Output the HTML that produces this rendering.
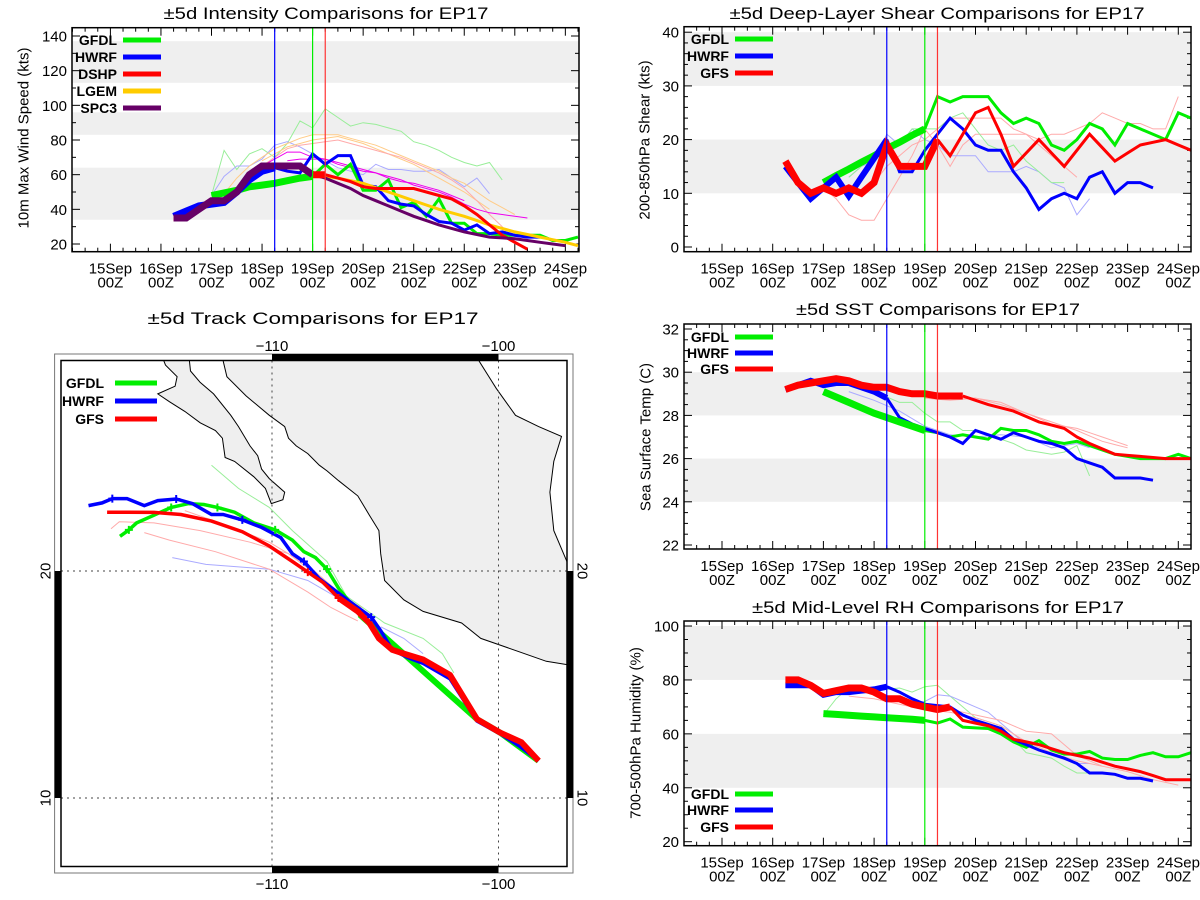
<!DOCTYPE html>
<html><head><meta charset="utf-8">
<style>
html,body{margin:0;padding:0;background:#fff;}
svg{display:block;font-family:"Liberation Sans",sans-serif;}
</style></head>
<body>
<svg id="fig" width="1200" height="900" viewBox="0 0 1200 900" xmlns="http://www.w3.org/2000/svg">
<rect x="0" y="0" width="1200" height="900" fill="#fff"/>
</svg>
<script>
// ---------- DATA (6-hourly, day offset from 15Sep 00Z) ----------
const dayLabels = ["15Sep","16Sep","17Sep","18Sep","19Sep","20Sep","21Sep","22Sep","23Sep","24Sep"];
const verticalMarkDays = [3.25, 4.0, 4.25];

// Intensity (kt)
const intSpc3Thick = [35,35,40,45,45,50,60,65,65,65,65,60];
const intSpc3 = [60,58,55,52,48,45,42,39,36,33.5,31,29,27,25.5,24,23.5,23,22,21,20,19];
const intHwrfThick = [36,39,42,43,44,50,57,62,64];
const intHwrf = [64,62,61,72,66,71,71,54,53,45,43,42,37,33,32,28,31,26,27,25,24,24];
const intGfdlThick = [48,49.5,51,53,54,55,56.5,58,59];
const intGfdl = [59,66,60,66,51,51,57,41,44,36,46,32,32,26,26,25,25,25,25,22,22,24];
const intDshpEarly = [35,35];
const intDshpThick = [60,60];
const intDshp = [60,58,56,53,52,52,52,52,50,48,46,42,37,31,25,21,17];
const intLgem = [60,59,58,56.5,55,52.5,50,47.5,45,42.5,40,38,36,33.5,31,29,27,25.5,24,22.5,21,19];
const intThinGreen = [48,74,63,72,75,70,78,91,87,98,93,88,90,89,87,85,79,77,74,70,67,65,67,57];
const intThinBlue = [48,59,65,65,69,77,79,76,72,68,64,62,60,66,63,63,62,62,63,58,53,58,49];
const intThinOrange1 = [49,58,65,70,75,78,81,83,83,83,81,79,77,74,71,68,65,62,58,55,50,45,41,37];
const intThinOrange2 = [68,72,76,78,80,81,82,80,78,75,72,69,66,62,58,54,50,45,40];
const intThinRed = [65,70,75,77,78,79,80,78,76,74,72,70,67,64,61,57,52,45,37,30,20];
const intThinMagenta1 = [60,65,69,73,73,70,69,67,65,63,61,58,56,55,53,51,48,45];
const intThinMagenta2 = [68,69,69,69,66,64,62,61,59,57,54,52,50,47,43,40,38,37,36,35];

// Shear (kt)
const shrGfsThick = [16,12,10,11,10,11,10,12,19,15,15,15,20];
const shrGfs = [20,17,21,25,26,21,15,17.5,20,17.5,15,18,21,18.5,16,17.5,19,19.5,20,19,18];
const shrHwrfThick = [15,12,9,11,13,9.5,13,16.5,20];
const shrHwrf = [20,14,14,18,21,24,22,19,18,18,14,11,7,9,10,9,13,14,10,12,12,11];
const shrGfdlThick = [12,13.3,14.5,15.8,17,18.3,19.5,20.8,22];
const shrGfdl = [22,28,27,28,28,28,25,23,24,23,19,18,20,23,22,19,23,22,21,20,25,24];
const shrThinRed1 = [11,9,6,5,5,9,13,17,22,19,15,19,21,21,21,21,21,20,21,21,22,23,25,24,23,23,22,22,28];
const shrThinRed2 = [12,15,17,19,20,22,24,24,24,24,24,22,21,19,17,15,13];
const shrThinBlue = [13,15,16,21,19,22,20,19,17,17,17,14,14,14,15,14,12,11,6,9];
const shrThinGreen = [13,15,17,18,19,22,22,22,24,25,22,19,18,19,16,14,12,12];

// SST (C)
const sstGfsThick = [29.2,29.4,29.5,29.6,29.7,29.6,29.4,29.3,29.3,29.1,29.0,29.0,28.9,28.9,28.9];
const sstGfs = [28.9,28.7,28.5,28.35,28.2,27.95,27.7,27.55,27.4,27.0,26.7,26.45,26.2,26.15,26.1,26.05,26.0,26.0,26.0];
const sstHwrfThick = [29.2,29.4,29.6,29.4,29.5,29.5,29.3,29.1,28.8];
const sstHwrf = [28.8,27.9,27.6,27.4,27.2,27.0,26.7,27.3,27.1,26.9,27.2,27.0,26.8,26.7,26.5,26.0,25.8,25.6,25.1,25.1,25.1,25.0];
const sstGfdlThick = [29.1,28.85,28.6,28.35,28.1,27.9,27.7,27.5,27.3];
const sstGfdl = [27.3,27.2,27.0,27.1,27.0,26.9,27.4,27.3,27.3,27.1,26.8,26.7,26.8,26.6,26.4,26.2,26.1,26.0,26.0,26.0,26.2,26.0];
const sstThinRed1 = [28.8,28.75,28.7,28.75,28.8,28.65,28.5,28.3,28.1,27.9,27.7,27.5,27.3,27.05,26.8,26.65,26.5];
const sstThinRed2 = [28.9,28.85,28.85,28.8,28.8,28.7,28.6,28.35,28.1,27.85,27.6,27.5,27.4,27.2,27.0,26.8,26.6];
const sstThinGreen = [29.1,28.85,28.6,28.6,28.1,27.7,27.7,27.3,27.3,27.1,26.9,26.7,26.4,26.3,26.2,26.3,26.6,25.2];
const sstThinBlue = [29.1,28.9,28.7,28.45,28.2,27.85,27.5,27.3,27.1,27.05,27.0,27.05,27.1,27.05,27.0,26.75,26.5,26.6,26.7,26.5];

// Mid-level RH (%)
const rhGfsThick = [80,80,78,75,76,77,77,75.5,73,73,71,70,69,70];
const rhGfs = [70,65,64,63,61,58,57,56,54.5,53,52,51,49.5,48,47,46,44.5,43,43,43];
const rhHwrfThick = [78,78,78,74.5,75.5,75.5,76,76.5,77.5];
const rhHwrf = [77.5,75.5,73,71,70.5,70,67,65,63.5,62,58,56,54,52.5,51,49,45.5,45.5,45,43.5,43.5,42.5];
const rhGfdlThick = [67.5,67.2,66.9,66.6,66.3,66,65.7,65.4,65];
const rhGfdl = [65,64,65.5,62.5,62.2,62,60,57,55,57.5,54,52.5,52.5,53.5,51,50.5,50.5,52,53,51.5,51.5,53];
const rhThinGreen = [67,73,77,77,76,76.5,77,75.5,77.5,78,74,70,66,64.5,63,58,53,52,51,48,45.5,45.5];
const rhThinBlue = [72,72,72,74.5,74,72,70,68,64,60,56,54,52,50.5,49,49];
const rhThinRed1 = [75,73.5,72,71,70,69.5,69,68,67,66,65,63,61,60.5,60,56,52,50,48,47,46,44.5,43,42,41];
const rhThinRed2 = [74,73.5,73,72,71,70,69,68.5,68,67,66,64.5,63,60,57,55,53,51.5,50,49,48];

// Track (lon, lat)
const trkGfsLon = [-117.28,-115.21,-114.02,-112.67,-111.31,-110.12,-109.10,-108.42,-107.74,-107.06,-106.21,-105.70,-105.28,-104.69,-104.18,-103.33,-102.14,-100.95,-99.93,-98.99,-98.23];
const trkGfsLat = [22.59,22.58,22.49,22.20,21.73,21.10,20.42,19.95,19.49,18.81,18.22,17.71,17.03,16.53,16.36,16.10,15.42,13.47,12.88,12.46,11.64];
const trkHwrfLon = [-118.10,-117.50,-117.05,-116.40,-115.64,-115.04,-114.23,-113.51,-112.67,-112.16,-111.31,-110.46,-109.61,-109.10,-108.59,-107.91,-107.23,-106.21,-105.62,-105.20,-104.69,-104.01,-103.33,-102.14,-100.95,-99.93,-99.08,-98.23];
const trkHwrfLat = [22.88,23.00,23.19,23.19,22.88,23.10,23.17,22.97,22.49,22.49,22.25,21.92,21.47,20.76,20.42,19.66,19.15,18.39,17.97,17.37,16.53,16.19,15.93,15.25,13.39,12.83,12.29,11.64];
const trkGfdlLon = [-116.71,-116.32,-115.98,-115.21,-114.45,-113.68,-113.01,-112.41,-111.65,-110.80,-109.86,-109.10,-108.59,-108.08,-107.57,-107.06,-106.13];
const trkGfdlLat = [21.53,21.81,22.12,22.46,22.80,22.97,22.93,22.80,22.59,22.12,21.81,21.36,20.85,20.59,20.08,19.24,18.08];
const trkGfdlThickLon = [-106.13,-100.95,-99.93,-98.23];
const trkGfdlThickLat = [18.08,13.47,12.88,11.64];
const trkThinGreenLon = [-112.67,-111.48,-110.12,-109.10,-107.57,-106.72,-105.03,-103.33,-102.48,-101.97];
const trkThinGreenLat = [24.66,23.64,22.80,21.78,20.42,18.90,17.71,17.03,16.36,15.51];
const trkThinBlue1Lon = [-114.40,-112.92,-110.12,-108.42,-107.23,-106.21];
const trkThinBlue1Lat = [20.59,20.29,20.08,19.58,18.90,18.39];
const trkThinBlue2Lon = [-105.20,-104.18,-103.33];
const trkThinBlue2Lat = [17.54,17.03,16.36];
const trkThinRed1Lon = [-117.11,-116.74,-115.21,-113.17,-110.97,-109.27,-107.91,-106.72,-106.04];
const trkThinRed1Lat = [21.86,22.17,22.12,21.78,21.27,20.76,19.75,18.73,18.39];
const trkThinRed2Lon = [-115.64,-114.53,-112.50,-110.12,-108.42,-107.40,-106.72,-106.21];
const trkThinRed2Lat = [21.69,21.36,20.85,20.08,19.07,18.39,18.05,17.80];
const trkThinRed3Lon = [-113.85,-111.82,-110.12,-108.42,-107.06];
const trkThinRed3Lat = [22.66,21.95,21.27,20.25,19.07];

// Coastlines (lon/lat)
const mainlandLon = [-112.24,-111.99,-111.14,-110.12,-109.44,-109.27,-108.93,-108.42,-107.91,-107.57,-107.06,-106.21,-105.70,-105.28,-105.20,-105.03,-104.18,-103.33,-101.63,-100.78,-99.08,-97.89,-96.5,-96.5,-96.98,-97.56,-97.73,-97.56,-97.22,-98.23,-99.25,-100.10,-100.87,-100.87];
const mainlandLat = [29.6,28.56,27.71,26.86,26.36,25.85,25.51,25.17,24.66,24.41,23.98,23.31,22.46,21.78,20.76,19.58,18.73,18.22,17.71,17.03,16.44,16.02,15.8,20.42,20.42,21.78,23.47,24.83,25.93,26.36,26.86,28.05,29.27,29.6];
const bajaLon = [-114.91,-113.68,-113.60,-113.17,-112.58,-111.82,-111.48,-110.97,-110.63,-110.46,-110.12,-109.44,-109.52,-110.03,-110.29,-110.80,-111.65,-112.07,-112.19,-112.50,-113.17,-113.85,-114.53,-115.04,-114.28,-114.19,-114.70];
const bajaLat = [29.6,29.6,28.81,28.31,27.80,26.86,26.36,25.51,25.08,24.49,24.07,23.47,23.14,22.97,23.64,24.15,24.83,25.0,25.85,26.19,26.53,27.03,27.46,27.80,28.14,28.56,29.07];

// ---------- RENDERING ----------
const NS = "http://www.w3.org/2000/svg";
const svg = document.getElementById('fig');
function mk(parent, tag, attrs, txt){
  const e = document.createElementNS(NS, tag);
  for (const k in attrs) e.setAttribute(k, attrs[k]);
  if (txt !== undefined) e.textContent = txt;
  parent.appendChild(e);
  return e;
}
const COL = {green:"#00ee00", blue:"#0000ff", red:"#ff0000", orange:"#ffcc00", purple:"#660066",
  ltGreen:"#99ee99", ltBlue:"#aaaaff", ltRed:"#ffaaaa", ltOrange:"#ffcc88", magenta:"#ee00ee"};

function drawPanel(p){
  const g = mk(svg, 'g', {});
  
  
  const X = d => p.dx0 + p.dpx * d;
  const Y = v => p.ya - (v - p.va) * p.vpx;
  const bw = p.x1 - p.x0;
  // clip
  const cid = p.name + '-clip';
  const cp = mk(g, 'clipPath', {id: cid});
  mk(cp, 'rect', {x:p.x0, y:p.y0, width:bw, height:p.y1-p.y0});
  p.bands.forEach(b => {
    const r = mk(g, 'rect', {x:p.x0, y:Y(b[1]), width:bw, height:Y(b[0])-Y(b[1]), fill:"#efefef", 'clip-path':`url(#${cid})`});
    
    
  });
  // ticks x
  for (let i = -3; i <= 37; i++) {
    const d = i * 0.25, x = X(d);
    if (x < p.x0 || x > p.x1) continue;
    const len = (i % 4 === 0) ? 8 : 4;
    mk(g, 'line', {x1:x, x2:x, y1:p.y1, y2:p.y1-len, stroke:"#000", 'stroke-width':1});
    mk(g, 'line', {x1:x, x2:x, y1:p.y0, y2:p.y0+len, stroke:"#000", 'stroke-width':1});
  }
  dayLabels.forEach((lab, i) => {
    const t1 = mk(g, 'text', {x:X(i), y:p.y1+22, 'font-size':15, 'text-anchor':'middle'}, lab);
    
    
    const t2 = mk(g, 'text', {x:X(i), y:p.y1+36, 'font-size':15, 'text-anchor':'middle'}, "00Z");
    
    
  });
  // y ticks
  for (let v = p.minorStart; v <= p.vmaxTick + 1e-6; v += p.minor) {
    const y = Y(v);
    if (y < p.y0 - 0.5 || y > p.y1 + 0.5) continue;
    const major = Math.abs(((v - p.majorStart) / p.major) - Math.round((v - p.majorStart) / p.major)) < 1e-6;
    const len = major ? 8 : 4;
    mk(g, 'line', {x1:p.x0, x2:p.x0+len, y1:y, y2:y, stroke:"#000"});
    mk(g, 'line', {x1:p.x1, x2:p.x1-len, y1:y, y2:y, stroke:"#000"});
  }
  p.yLabels.forEach(v => {
    const t = mk(g, 'text', {x:p.x0-5, y:Y(v)+5.5, 'font-size':15, 'text-anchor':'end'}, String(v));
    
    
  });
  const yt = mk(g, 'text', {x:0, y:0, 'font-size':15, 'text-anchor':'middle', 'dominant-baseline':'central', transform:`translate(${p.ytX},${p.ytY}) rotate(-90)`}, p.ytitle);
  
  
  const tt = mk(g, 'text', {x:p.tX, y:p.tY, 'font-size':17, 'text-anchor':'middle', textLength:p.tLen, lengthAdjust:'spacingAndGlyphs'}, p.title);
  
  
  // series
  const sg = mk(g, 'g', {'clip-path':`url(#${cid})`});
  p.series.forEach(s => {
    const pts = s.vals.map((v, i) => `${X(s.start + 0.25 * i).toFixed(1)},${Y(v).toFixed(1)}`).join(' ');
    const pl = mk(sg, 'polyline', {points:pts, fill:'none', stroke:s.c, 'stroke-width':s.w, 'stroke-linejoin':'miter', 'stroke-linecap':'butt'});
    
    
  });
  // vertical lines
  const vcols = [COL.blue, COL.green, "#ff3333"];
  verticalMarkDays.forEach((d, i) => {
    const l = mk(g, 'line', {x1:X(d), x2:X(d), y1:p.y0, y2:p.y1, stroke:vcols[i], 'stroke-width':1.2});
    
    
  });
  // box
  const bx = mk(g, 'rect', {x:p.x0, y:p.y0, width:bw, height:p.y1-p.y0, fill:'none', stroke:'#000', 'stroke-width':1.5});
  
  
  // legend
  p.legend.forEach((L, i) => {
    const y = p.legY[i];
    const t = mk(g, 'text', {x:p.legTX, y:y+5, 'font-size':14, 'font-weight':'bold', 'text-anchor':'end'}, L[0]);
    
    
    const l = mk(g, 'line', {x1:p.legL0, x2:p.legL1, y1:y, y2:y, stroke:L[1], 'stroke-width':5});
    
    
  });
}

// Intensity panel
drawPanel({name:'intensity-panel', x0:72, x1:579, y0:27.7, y1:251.7, dx0:110.4, dpx:50.55,
  va:20, ya:244, vpx:1.7333, bands:[[34,64],[83,96],[113,137]],
  minorStart:20, minor:10, major:20, majorStart:20, vmaxTick:140, yLabels:[20,40,60,80,100,120,140],
  ytitle:'10m Max Wind Speed (kts)', ytX:24, ytY:138,
  title:'±5d Intensity Comparisons for EP17', tX:326, tY:19, tLen:325,
  legend:[['GFDL',COL.green],['HWRF',COL.blue],['DSHP',COL.red],['LGEM',COL.orange],['SPC3',COL.purple]],
  legY:[40,57,74,91,108], legTX:117, legL0:123, legL1:161,
  series:[
    {n:'thin-gfdl', start:2.0, vals:intThinGreen, c:COL.ltGreen, w:1},
    {n:'thin-hwrf', start:2.0, vals:intThinBlue, c:COL.ltBlue, w:1},
    {n:'thin-lgem-1', start:2.25, vals:intThinOrange1, c:COL.ltOrange, w:1},
    {n:'thin-lgem-2', start:3.0, vals:intThinOrange2, c:COL.ltOrange, w:1},
    {n:'thin-dshp', start:3.0, vals:intThinRed, c:COL.ltRed, w:1},
    {n:'thin-spc3-1', start:2.75, vals:intThinMagenta1, c:COL.magenta, w:1},
    {n:'thin-spc3-2', start:3.5, vals:intThinMagenta2, c:COL.magenta, w:1},
    {n:'gfdl-line', start:4.0, vals:intGfdl, c:COL.green, w:3},
    {n:'hwrf-line', start:3.25, vals:intHwrf, c:COL.blue, w:3},
    {n:'lgem-line', start:4.0, vals:intLgem, c:COL.orange, w:3},
    {n:'dshp-line', start:4.25, vals:intDshp, c:COL.red, w:3},
    {n:'spc3-line', start:4.0, vals:intSpc3, c:COL.purple, w:3},
    {n:'gfdl-thick', start:2.0, vals:intGfdlThick, c:COL.green, w:7},
    {n:'hwrf-thick', start:1.25, vals:intHwrfThick, c:COL.blue, w:7},
    {n:'dshp-early', start:1.25, vals:intDshpEarly, c:COL.red, w:7},
    {n:'spc3-thick', start:1.25, vals:intSpc3Thick, c:COL.purple, w:7},
    {n:'dshp-thick', start:4.0, vals:intDshpThick, c:COL.red, w:7}
  ]});

// Shear panel
drawPanel({name:'shear-panel', x0:684, x1:1191, y0:26.7, y1:251.7, dx0:722, dpx:50.7,
  va:0, ya:247, vpx:5.37, bands:[[10,20],[30,40]],
  minorStart:0, minor:2, major:10, majorStart:0, vmaxTick:40, yLabels:[0,10,20,30,40],
  ytitle:'200-850hPa Shear (kts)', ytX:645, ytY:140,
  title:'±5d Deep-Layer Shear Comparisons for EP17', tX:937, tY:19, tLen:415,
  legend:[['GFDL',COL.green],['HWRF',COL.blue],['GFS',COL.red]],
  legY:[39,56,73], legTX:729, legL0:735, legL1:773,
  series:[
    {n:'thin-gfs-1', start:2.0, vals:shrThinRed1, c:COL.ltRed, w:1},
    {n:'thin-gfs-2', start:3.0, vals:shrThinRed2, c:COL.ltRed, w:1},
    {n:'thin-hwrf', start:2.5, vals:shrThinBlue, c:COL.ltBlue, w:1},
    {n:'thin-gfdl', start:2.5, vals:shrThinGreen, c:COL.ltGreen, w:1},
    {n:'gfdl-line', start:4.0, vals:shrGfdl, c:COL.green, w:3},
    {n:'hwrf-line', start:3.25, vals:shrHwrf, c:COL.blue, w:3},
    {n:'gfs-line', start:4.25, vals:shrGfs, c:COL.red, w:3},
    {n:'gfdl-thick', start:2.0, vals:shrGfdlThick, c:COL.green, w:7},
    {n:'hwrf-thick', start:1.25, vals:shrHwrfThick, c:COL.blue, w:6},
    {n:'gfs-thick', start:1.25, vals:shrGfsThick, c:COL.red, w:7}
  ]});

// SST panel
drawPanel({name:'sst-panel', x0:684, x1:1191, y0:324, y1:549, dx0:722, dpx:50.7,
  va:22, ya:545, vpx:21.6, bands:[[24,26],[28,30]],
  minorStart:22, minor:0.5, major:2, majorStart:22, vmaxTick:32, yLabels:[22,24,26,28,30,32],
  ytitle:'Sea Surface Temp (C)', ytX:646, ytY:437,
  title:'±5d SST Comparisons for EP17', tX:938, tY:315, tLen:284,
  legend:[['GFDL',COL.green],['HWRF',COL.blue],['GFS',COL.red]],
  legY:[337,353,369], legTX:729, legL0:735, legL1:773,
  series:[
    {n:'thin-gfs-1', start:4.0, vals:sstThinRed1, c:COL.ltRed, w:1},
    {n:'thin-gfs-2', start:4.0, vals:sstThinRed2, c:COL.ltRed, w:1},
    {n:'thin-gfdl', start:3.0, vals:sstThinGreen, c:COL.ltGreen, w:1},
    {n:'thin-hwrf', start:2.5, vals:sstThinBlue, c:COL.ltBlue, w:1},
    {n:'gfdl-line', start:4.0, vals:sstGfdl, c:COL.green, w:3},
    {n:'hwrf-line', start:3.25, vals:sstHwrf, c:COL.blue, w:3},
    {n:'gfs-line', start:4.75, vals:sstGfs, c:COL.red, w:3},
    {n:'gfdl-thick', start:2.0, vals:sstGfdlThick, c:COL.green, w:7},
    {n:'hwrf-thick', start:1.25, vals:sstHwrfThick, c:COL.blue, w:6},
    {n:'gfs-thick', start:1.25, vals:sstGfsThick, c:COL.red, w:7}
  ]});

// RH panel
drawPanel({name:'rh-panel', x0:684, x1:1191, y0:621, y1:845.7, dx0:722, dpx:50.7,
  va:20, ya:841.7, vpx:2.696, bands:[[40,60],[80,100]],
  minorStart:20, minor:5, major:20, majorStart:20, vmaxTick:100, yLabels:[20,40,60,80,100],
  ytitle:'700-500hPa Humidity (%)', ytX:636, ytY:733,
  title:'±5d Mid-Level RH Comparisons for EP17', tX:938, tY:613, tLen:372,
  legend:[['GFDL',COL.green],['HWRF',COL.blue],['GFS',COL.red]],
  legY:[794,810,827], legTX:729, legL0:735, legL1:773,
  series:[
    {n:'thin-gfdl', start:2.0, vals:rhThinGreen, c:COL.ltGreen, w:1},
    {n:'thin-hwrf', start:3.5, vals:rhThinBlue, c:COL.ltBlue, w:1},
    {n:'thin-gfs-1', start:3.0, vals:rhThinRed1, c:COL.ltRed, w:1},
    {n:'thin-gfs-2', start:2.5, vals:rhThinRed2, c:COL.ltRed, w:1},
    {n:'gfdl-line', start:4.0, vals:rhGfdl, c:COL.green, w:3},
    {n:'hwrf-line', start:3.25, vals:rhHwrf, c:COL.blue, w:3},
    {n:'gfs-line', start:4.5, vals:rhGfs, c:COL.red, w:3},
    {n:'gfdl-thick', start:2.0, vals:rhGfdlThick, c:COL.green, w:7},
    {n:'hwrf-thick', start:1.25, vals:rhHwrfThick, c:COL.blue, w:6},
    {n:'gfs-thick', start:1.25, vals:rhGfsThick, c:COL.red, w:7}
  ]});

// Track map
(function(){
  const g = mk(svg, 'g', {});
  
  
  const LX = lon => 272 + (lon + 110) * 22.65;
  const LY = lat => 571 - (lat - 20) * 22.7;
  const ix0 = 61, ix1 = 567, iy0 = 360.5, iy1 = 866.5;
  const cp = mk(g, 'clipPath', {id:'map-clip'});
  mk(cp, 'rect', {x:ix0, y:iy0, width:ix1-ix0, height:iy1-iy0});
  const pts = (lo, la) => lo.map((v, i) => `${LX(v).toFixed(1)},${LY(la[i]).toFixed(1)}`).join(' ');
  const land1 = mk(g, 'polygon', {points:pts(mainlandLon, mainlandLat), fill:'#efefef', stroke:'#000', 'stroke-width':1, 'clip-path':'url(#map-clip)'});
  
  
  const land2 = mk(g, 'polygon', {points:pts(bajaLon, bajaLat), fill:'#efefef', stroke:'#000', 'stroke-width':1, 'clip-path':'url(#map-clip)'});
  
  
  [-110, -100].forEach(lon => {
    const l = mk(g, 'line', {x1:LX(lon), x2:LX(lon), y1:iy0, y2:iy1, stroke:'#444', 'stroke-dasharray':'2,4'});
    
    
  });
  [20, 10].forEach(lat => {
    const l = mk(g, 'line', {x1:ix0, x2:ix1, y1:LY(lat), y2:LY(lat), stroke:'#444', 'stroke-dasharray':'2,4'});
    
    
  });
  const tracks = [
    ['thin-gfdl-track', trkThinGreenLon, trkThinGreenLat, COL.ltGreen, 1],
    ['thin-hwrf-track-1', trkThinBlue1Lon, trkThinBlue1Lat, COL.ltBlue, 1],
    ['thin-hwrf-track-2', trkThinBlue2Lon, trkThinBlue2Lat, COL.ltBlue, 1],
    ['thin-gfs-track-1', trkThinRed1Lon, trkThinRed1Lat, COL.ltRed, 1],
    ['thin-gfs-track-2', trkThinRed2Lon, trkThinRed2Lat, COL.ltRed, 1],
    ['thin-gfs-track-3', trkThinRed3Lon, trkThinRed3Lat, COL.ltRed, 1],
    ['gfdl-track-thick', trkGfdlThickLon, trkGfdlThickLat, COL.green, 6],
    ['gfdl-track', trkGfdlLon, trkGfdlLat, COL.green, 3.5],
    ['hwrf-track', trkHwrfLon, trkHwrfLat, COL.blue, 3.5],
    ['gfs-track', trkGfsLon, trkGfsLat, COL.red, 3.5]
  ];
  tracks.forEach(t => {
    const pl = mk(g, 'polyline', {points:pts(t[1], t[2]), fill:'none', stroke:t[3], 'stroke-width':t[4], 'clip-path':'url(#map-clip)'});
    
    
  });
  // thick tail of GFS track
  const tail = mk(g, 'polyline', {points:pts(trkGfsLon.slice(9), trkGfsLat.slice(9)), fill:'none', stroke:COL.red, 'stroke-width':6});
  
  
  // plus markers
  [[trkHwrfLon, trkHwrfLat, COL.blue, [2,6,10,14,18]], [trkGfdlLon, trkGfdlLat, COL.green, [1,4,7,10,14]], [trkGfsLon, trkGfsLat, COL.red, [7,9]]].forEach(m => {
    m[3].forEach(i => {
      const x = LX(m[0][i]), y = LY(m[1][i]);
      const pth = mk(g, 'path', {d:`M${x-4},${y}H${x+4}M${x},${y-4}V${y+4}`, stroke:m[2], 'stroke-width':2});
      
      
    });
  });
  // frames and bars
  const of = mk(g, 'rect', {x:54.6, y:354, width:518.4, height:519, fill:'none', stroke:'#777', 'stroke-width':1});
  
  
  const inf = mk(g, 'rect', {x:ix0, y:iy0, width:ix1-ix0, height:iy1-iy0, fill:'none', stroke:'#000', 'stroke-width':1.5});
  
  
  [[LX(-110), 354, LX(-100)-LX(-110), 6.5], [LX(-110), 866.5, LX(-100)-LX(-110), 6.5],
   [54.6, LY(20), 6.4, LY(10)-LY(20)], [567, LY(20), 6.4, LY(10)-LY(20)]].forEach(b => {
    const r = mk(g, 'rect', {x:b[0], y:b[1], width:b[2], height:b[3], fill:'#000'});
    
    
  });
  [-110, -100].forEach(lon => {
    const a = mk(g, 'text', {x:LX(lon), y:351, 'font-size':15, 'text-anchor':'middle'}, '\u2212' + Math.abs(lon));
    
    
    const b = mk(g, 'text', {x:LX(lon), y:889, 'font-size':15, 'text-anchor':'middle'}, '\u2212' + Math.abs(lon));
    
    
  });
  [20, 10].forEach(lat => {
    const a = mk(g, 'text', {x:0, y:0, 'font-size':15, 'text-anchor':'middle', 'dominant-baseline':'central', transform:`translate(46,${LY(lat)}) rotate(-90)`}, String(lat));
    
    
    const b = mk(g, 'text', {x:0, y:0, 'font-size':15, 'text-anchor':'middle', 'dominant-baseline':'central', transform:`translate(582,${LY(lat)}) rotate(90)`}, String(lat));
    
    
  });
  const tt = mk(g, 'text', {x:313, y:324, 'font-size':17, 'text-anchor':'middle', textLength:331, lengthAdjust:'spacingAndGlyphs'}, '±5d Track Comparisons for EP17');
  
  
  [['GFDL', COL.green, 383], ['HWRF', COL.blue, 401], ['GFS', COL.red, 419]].forEach(L => {
    const t = mk(g, 'text', {x:104, y:L[2]+5, 'font-size':14, 'font-weight':'bold', 'text-anchor':'end'}, L[0]);
    
    
    const l = mk(g, 'line', {x1:115, x2:157, y1:L[2], y2:L[2], stroke:L[1], 'stroke-width':5});
    
    
  });
})();
</script>
</body></html>
